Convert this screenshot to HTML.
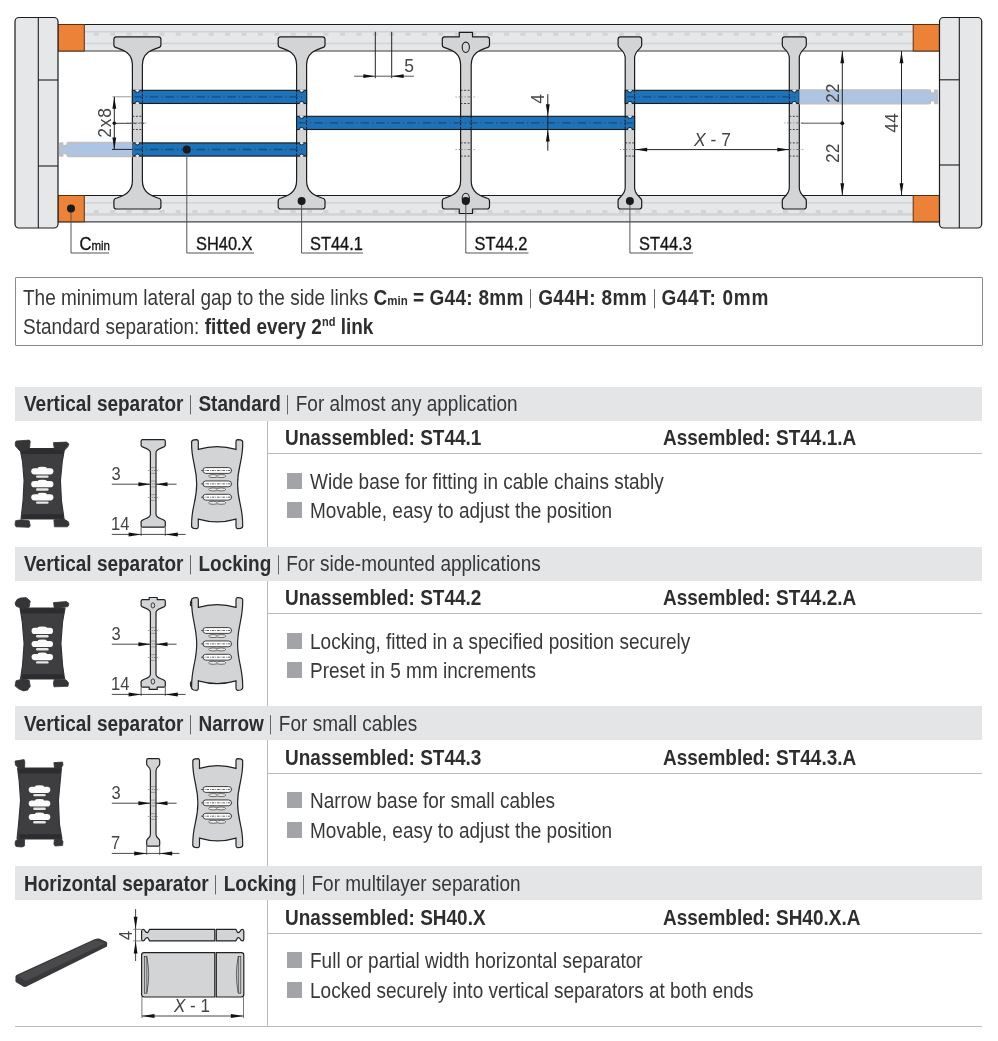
<!DOCTYPE html>
<html><head><meta charset="utf-8"><style>
html,body{margin:0;padding:0;background:#fff;}
body{width:998px;height:1041px;position:relative;overflow:hidden;font-family:"Liberation Sans", sans-serif;}
.t{position:absolute;white-space:nowrap;will-change:transform;}
b{font-weight:700;color:#2e2e2e;}
sup{font-size:11px;vertical-align:0;position:relative;top:-7px;}
.vb{display:inline-block;width:1px;background:#666;vertical-align:-3px;}
</style></head><body>
<svg width="998" height="262" viewBox="0 0 998 262" style="position:absolute;left:0;top:0;will-change:transform"><rect x="58" y="24.5" width="881" height="26.5" fill="#e6e7e9"/><rect x="84" y="30.9" width="829" height="1.6" fill="#d2d3d5"/><rect x="84" y="42.7" width="829" height="1.5" fill="#d2d3d5"/><rect x="93.8" y="32.5" width="5" height="3.2" fill="#d2d3d5"/><rect x="110.2" y="32.5" width="5" height="3.2" fill="#d2d3d5"/><rect x="126.6" y="32.5" width="5" height="3.2" fill="#d2d3d5"/><rect x="143.0" y="32.5" width="5" height="3.2" fill="#d2d3d5"/><rect x="159.4" y="32.5" width="5" height="3.2" fill="#d2d3d5"/><rect x="175.8" y="32.5" width="5" height="3.2" fill="#d2d3d5"/><rect x="192.3" y="32.5" width="5" height="3.2" fill="#d2d3d5"/><rect x="208.7" y="32.5" width="5" height="3.2" fill="#d2d3d5"/><rect x="225.1" y="32.5" width="5" height="3.2" fill="#d2d3d5"/><rect x="241.5" y="32.5" width="5" height="3.2" fill="#d2d3d5"/><rect x="257.9" y="32.5" width="5" height="3.2" fill="#d2d3d5"/><rect x="274.3" y="32.5" width="5" height="3.2" fill="#d2d3d5"/><rect x="290.7" y="32.5" width="5" height="3.2" fill="#d2d3d5"/><rect x="307.1" y="32.5" width="5" height="3.2" fill="#d2d3d5"/><rect x="323.5" y="32.5" width="5" height="3.2" fill="#d2d3d5"/><rect x="340.0" y="32.5" width="5" height="3.2" fill="#d2d3d5"/><rect x="356.4" y="32.5" width="5" height="3.2" fill="#d2d3d5"/><rect x="372.8" y="32.5" width="5" height="3.2" fill="#d2d3d5"/><rect x="389.2" y="32.5" width="5" height="3.2" fill="#d2d3d5"/><rect x="405.6" y="32.5" width="5" height="3.2" fill="#d2d3d5"/><rect x="422.0" y="32.5" width="5" height="3.2" fill="#d2d3d5"/><rect x="438.4" y="32.5" width="5" height="3.2" fill="#d2d3d5"/><rect x="454.8" y="32.5" width="5" height="3.2" fill="#d2d3d5"/><rect x="471.2" y="32.5" width="5" height="3.2" fill="#d2d3d5"/><rect x="487.6" y="32.5" width="5" height="3.2" fill="#d2d3d5"/><rect x="504.1" y="32.5" width="5" height="3.2" fill="#d2d3d5"/><rect x="520.5" y="32.5" width="5" height="3.2" fill="#d2d3d5"/><rect x="536.9" y="32.5" width="5" height="3.2" fill="#d2d3d5"/><rect x="553.3" y="32.5" width="5" height="3.2" fill="#d2d3d5"/><rect x="569.7" y="32.5" width="5" height="3.2" fill="#d2d3d5"/><rect x="586.1" y="32.5" width="5" height="3.2" fill="#d2d3d5"/><rect x="602.5" y="32.5" width="5" height="3.2" fill="#d2d3d5"/><rect x="618.9" y="32.5" width="5" height="3.2" fill="#d2d3d5"/><rect x="635.3" y="32.5" width="5" height="3.2" fill="#d2d3d5"/><rect x="651.7" y="32.5" width="5" height="3.2" fill="#d2d3d5"/><rect x="668.2" y="32.5" width="5" height="3.2" fill="#d2d3d5"/><rect x="684.6" y="32.5" width="5" height="3.2" fill="#d2d3d5"/><rect x="701.0" y="32.5" width="5" height="3.2" fill="#d2d3d5"/><rect x="717.4" y="32.5" width="5" height="3.2" fill="#d2d3d5"/><rect x="733.8" y="32.5" width="5" height="3.2" fill="#d2d3d5"/><rect x="750.2" y="32.5" width="5" height="3.2" fill="#d2d3d5"/><rect x="766.6" y="32.5" width="5" height="3.2" fill="#d2d3d5"/><rect x="783.0" y="32.5" width="5" height="3.2" fill="#d2d3d5"/><rect x="799.4" y="32.5" width="5" height="3.2" fill="#d2d3d5"/><rect x="815.8" y="32.5" width="5" height="3.2" fill="#d2d3d5"/><rect x="832.2" y="32.5" width="5" height="3.2" fill="#d2d3d5"/><rect x="848.7" y="32.5" width="5" height="3.2" fill="#d2d3d5"/><rect x="865.1" y="32.5" width="5" height="3.2" fill="#d2d3d5"/><rect x="881.5" y="32.5" width="5" height="3.2" fill="#d2d3d5"/><rect x="897.9" y="32.5" width="5" height="3.2" fill="#d2d3d5"/><line x1="58" y1="24.5" x2="939" y2="24.5" stroke="#1c1c1c" stroke-width="1.2"/><line x1="58" y1="51" x2="939" y2="51" stroke="#7a7a7a" stroke-width="1.3"/><rect x="58" y="195.5" width="881" height="26.30000000000001" fill="#e6e7e9"/><rect x="84" y="202.1" width="829" height="1.5" fill="#d2d3d5"/><rect x="84" y="213.1" width="829" height="2.6" fill="#d2d3d5"/><rect x="93.8" y="210" width="5" height="3.2" fill="#d2d3d5"/><rect x="110.2" y="210" width="5" height="3.2" fill="#d2d3d5"/><rect x="126.6" y="210" width="5" height="3.2" fill="#d2d3d5"/><rect x="143.0" y="210" width="5" height="3.2" fill="#d2d3d5"/><rect x="159.4" y="210" width="5" height="3.2" fill="#d2d3d5"/><rect x="175.8" y="210" width="5" height="3.2" fill="#d2d3d5"/><rect x="192.3" y="210" width="5" height="3.2" fill="#d2d3d5"/><rect x="208.7" y="210" width="5" height="3.2" fill="#d2d3d5"/><rect x="225.1" y="210" width="5" height="3.2" fill="#d2d3d5"/><rect x="241.5" y="210" width="5" height="3.2" fill="#d2d3d5"/><rect x="257.9" y="210" width="5" height="3.2" fill="#d2d3d5"/><rect x="274.3" y="210" width="5" height="3.2" fill="#d2d3d5"/><rect x="290.7" y="210" width="5" height="3.2" fill="#d2d3d5"/><rect x="307.1" y="210" width="5" height="3.2" fill="#d2d3d5"/><rect x="323.5" y="210" width="5" height="3.2" fill="#d2d3d5"/><rect x="340.0" y="210" width="5" height="3.2" fill="#d2d3d5"/><rect x="356.4" y="210" width="5" height="3.2" fill="#d2d3d5"/><rect x="372.8" y="210" width="5" height="3.2" fill="#d2d3d5"/><rect x="389.2" y="210" width="5" height="3.2" fill="#d2d3d5"/><rect x="405.6" y="210" width="5" height="3.2" fill="#d2d3d5"/><rect x="422.0" y="210" width="5" height="3.2" fill="#d2d3d5"/><rect x="438.4" y="210" width="5" height="3.2" fill="#d2d3d5"/><rect x="454.8" y="210" width="5" height="3.2" fill="#d2d3d5"/><rect x="471.2" y="210" width="5" height="3.2" fill="#d2d3d5"/><rect x="487.6" y="210" width="5" height="3.2" fill="#d2d3d5"/><rect x="504.1" y="210" width="5" height="3.2" fill="#d2d3d5"/><rect x="520.5" y="210" width="5" height="3.2" fill="#d2d3d5"/><rect x="536.9" y="210" width="5" height="3.2" fill="#d2d3d5"/><rect x="553.3" y="210" width="5" height="3.2" fill="#d2d3d5"/><rect x="569.7" y="210" width="5" height="3.2" fill="#d2d3d5"/><rect x="586.1" y="210" width="5" height="3.2" fill="#d2d3d5"/><rect x="602.5" y="210" width="5" height="3.2" fill="#d2d3d5"/><rect x="618.9" y="210" width="5" height="3.2" fill="#d2d3d5"/><rect x="635.3" y="210" width="5" height="3.2" fill="#d2d3d5"/><rect x="651.7" y="210" width="5" height="3.2" fill="#d2d3d5"/><rect x="668.2" y="210" width="5" height="3.2" fill="#d2d3d5"/><rect x="684.6" y="210" width="5" height="3.2" fill="#d2d3d5"/><rect x="701.0" y="210" width="5" height="3.2" fill="#d2d3d5"/><rect x="717.4" y="210" width="5" height="3.2" fill="#d2d3d5"/><rect x="733.8" y="210" width="5" height="3.2" fill="#d2d3d5"/><rect x="750.2" y="210" width="5" height="3.2" fill="#d2d3d5"/><rect x="766.6" y="210" width="5" height="3.2" fill="#d2d3d5"/><rect x="783.0" y="210" width="5" height="3.2" fill="#d2d3d5"/><rect x="799.4" y="210" width="5" height="3.2" fill="#d2d3d5"/><rect x="815.8" y="210" width="5" height="3.2" fill="#d2d3d5"/><rect x="832.2" y="210" width="5" height="3.2" fill="#d2d3d5"/><rect x="848.7" y="210" width="5" height="3.2" fill="#d2d3d5"/><rect x="865.1" y="210" width="5" height="3.2" fill="#d2d3d5"/><rect x="881.5" y="210" width="5" height="3.2" fill="#d2d3d5"/><rect x="897.9" y="210" width="5" height="3.2" fill="#d2d3d5"/><line x1="58" y1="195.5" x2="939" y2="195.5" stroke="#1c1c1c" stroke-width="1.2"/><line x1="58" y1="221.8" x2="939" y2="221.8" stroke="#444" stroke-width="1.3"/><rect x="58" y="24.5" width="26.299999999999997" height="26.5" fill="#ec8237" stroke="#5a3010" stroke-width="1"/><rect x="58" y="195.5" width="26.299999999999997" height="26.30000000000001" fill="#ec8237" stroke="#5a3010" stroke-width="1"/><rect x="913.2" y="24.5" width="26.199999999999932" height="26.5" fill="#ec8237" stroke="#5a3010" stroke-width="1"/><rect x="913.2" y="195.5" width="26.199999999999932" height="26.30000000000001" fill="#ec8237" stroke="#5a3010" stroke-width="1"/><rect x="15" y="17.5" width="43" height="210.5" rx="4" fill="#e6e7e9" stroke="#1c1c1c" stroke-width="1.2"/><line x1="38.3" y1="17.5" x2="38.3" y2="228" stroke="#1c1c1c" stroke-width="1.1"/><line x1="38.3" y1="80" x2="58" y2="80" stroke="#1c1c1c" stroke-width="1.1"/><line x1="38.3" y1="166" x2="58" y2="166" stroke="#1c1c1c" stroke-width="1.1"/><rect x="939.5" y="17.5" width="42.200000000000045" height="210.5" rx="4" fill="#e6e7e9" stroke="#1c1c1c" stroke-width="1.2"/><line x1="959.3" y1="17.5" x2="959.3" y2="228" stroke="#1c1c1c" stroke-width="1.1"/><line x1="939.5" y1="79.8" x2="959.3" y2="79.8" stroke="#1c1c1c" stroke-width="1.1"/><line x1="939.5" y1="165" x2="959.3" y2="165" stroke="#1c1c1c" stroke-width="1.1"/><path d="M 116.4,36.8 L 158.4,36.8 Q 160.9,36.8 160.9,39.3 L 160.9,45 Q 160.9,47.2 157.9,47.8 C 151.4,50 142.4,53 142.4,65 L 142.4,180.8 C 142.4,192.8 151.4,195.8 157.9,198.0 Q 160.9,198.60000000000002 160.9,200.8 L 160.9,206.5 Q 160.9,209.0 158.4,209.0 L 116.4,209.0 Q 113.9,209.0 113.9,206.5 L 113.9,200.8 Q 113.9,198.60000000000002 116.9,198.0 C 123.4,195.8 132.4,192.8 132.4,180.8 L 132.4,65 C 132.4,53 123.4,50 116.9,47.8 Q 113.9,47.2 113.9,45 L 113.9,39.3 Q 113.9,36.8 116.4,36.8 Z" fill="#d3d4d6" stroke="#1c1c1c" stroke-width="1.2" stroke-linejoin="round"/><path d="M 280.70000000000005,36.8 L 322.5,36.8 Q 325.0,36.8 325.0,39.3 L 325.0,45 Q 325.0,47.2 322.0,47.8 C 315.6,50 306.6,53 306.6,65 L 306.6,180.8 C 306.6,192.8 315.6,195.8 322.0,198.0 Q 325.0,198.60000000000002 325.0,200.8 L 325.0,206.5 Q 325.0,209.0 322.5,209.0 L 280.70000000000005,209.0 Q 278.20000000000005,209.0 278.20000000000005,206.5 L 278.20000000000005,200.8 Q 278.20000000000005,198.60000000000002 281.20000000000005,198.0 C 287.6,195.8 296.6,192.8 296.6,180.8 L 296.6,65 C 296.6,53 287.6,50 281.20000000000005,47.8 Q 278.20000000000005,47.2 278.20000000000005,45 L 278.20000000000005,39.3 Q 278.20000000000005,36.8 280.70000000000005,36.8 Z" fill="#d3d4d6" stroke="#1c1c1c" stroke-width="1.2" stroke-linejoin="round"/><path d="M 444.79999999999995,36.8 L 459.29999999999995,36.8 L 459.29999999999995,32.3 L 472.5,32.3 L 472.5,36.8 L 487.0,36.8 Q 489.5,36.8 489.5,39.3 L 489.5,45 Q 489.5,47.2 486.5,47.8 C 480.2,50 471.2,53 471.2,65 L 471.2,180.8 C 471.2,192.8 480.2,195.8 486.5,198.0 Q 489.5,198.60000000000002 489.5,200.8 L 489.5,206.5 Q 489.5,209.0 487.0,209.0 L 472.5,209.0 L 472.5,213.5 L 459.29999999999995,213.5 L 459.29999999999995,209.0 L 444.79999999999995,209.0 Q 442.29999999999995,209.0 442.29999999999995,206.5 L 442.29999999999995,200.8 Q 442.29999999999995,198.60000000000002 445.29999999999995,198.0 C 451.59999999999997,195.8 460.59999999999997,192.8 460.59999999999997,180.8 L 460.59999999999997,65 C 460.59999999999997,53 451.59999999999997,50 445.29999999999995,47.8 Q 442.29999999999995,47.2 442.29999999999995,45 L 442.29999999999995,39.3 Q 442.29999999999995,36.8 444.79999999999995,36.8 Z" fill="#d3d4d6" stroke="#1c1c1c" stroke-width="1.2" stroke-linejoin="round"/><path d="M 620.6,36.8 L 639.1999999999999,36.8 Q 641.6999999999999,36.8 641.6999999999999,39.3 L 641.6999999999999,45.3 C 641.6999999999999,48.8 634.6,50.3 634.6,58 L 634.6,187.8 C 634.6,195.5 641.6999999999999,197.0 641.6999999999999,200.5 L 641.6999999999999,206.5 Q 641.6999999999999,209.0 639.1999999999999,209.0 L 620.6,209.0 Q 618.1,209.0 618.1,206.5 L 618.1,200.5 C 618.1,197.0 625.1999999999999,195.5 625.1999999999999,187.8 L 625.1999999999999,58 C 625.1999999999999,50.3 618.1,48.8 618.1,45.3 L 618.1,39.3 Q 618.1,36.8 620.6,36.8 Z" fill="#d3d4d6" stroke="#1c1c1c" stroke-width="1.2" stroke-linejoin="round"/><path d="M 784.8,36.8 L 803.8,36.8 Q 806.3,36.8 806.3,39.3 L 806.3,45.3 C 806.3,48.8 799.3,50.3 799.3,58 L 799.3,187.8 C 799.3,195.5 806.3,197.0 806.3,200.5 L 806.3,206.5 Q 806.3,209.0 803.8,209.0 L 784.8,209.0 Q 782.3,209.0 782.3,206.5 L 782.3,200.5 C 782.3,197.0 789.3,195.5 789.3,187.8 L 789.3,58 C 789.3,50.3 782.3,48.8 782.3,45.3 L 782.3,39.3 Q 782.3,36.8 784.8,36.8 Z" fill="#d3d4d6" stroke="#1c1c1c" stroke-width="1.2" stroke-linejoin="round"/><ellipse cx="465.8" cy="47.3" rx="3.6" ry="5.2" fill="none" stroke="#1c1c1c" stroke-width="1.1"/><ellipse cx="465.8" cy="198.5" rx="3.6" ry="5.2" fill="none" stroke="#1c1c1c" stroke-width="1.1"/><line x1="132.4" y1="116.30000000000001" x2="142.4" y2="116.30000000000001" stroke="#333" stroke-width="0.9" stroke-dasharray="2,1.5"/><line x1="132.4" y1="129.5" x2="142.4" y2="129.5" stroke="#333" stroke-width="0.9" stroke-dasharray="2,1.5"/><line x1="127.4" y1="122.9" x2="147.4" y2="122.9" stroke="#666" stroke-width="0.8" stroke-dasharray="1,2,4,2"/><line x1="460.59999999999997" y1="90.30000000000001" x2="471.2" y2="90.30000000000001" stroke="#333" stroke-width="0.9" stroke-dasharray="2,1.5"/><line x1="460.59999999999997" y1="103.5" x2="471.2" y2="103.5" stroke="#333" stroke-width="0.9" stroke-dasharray="2,1.5"/><line x1="455.59999999999997" y1="96.9" x2="476.2" y2="96.9" stroke="#666" stroke-width="0.8" stroke-dasharray="1,2,4,2"/><line x1="460.59999999999997" y1="142.9" x2="471.2" y2="142.9" stroke="#333" stroke-width="0.9" stroke-dasharray="2,1.5"/><line x1="460.59999999999997" y1="156.1" x2="471.2" y2="156.1" stroke="#333" stroke-width="0.9" stroke-dasharray="2,1.5"/><line x1="455.59999999999997" y1="149.5" x2="476.2" y2="149.5" stroke="#666" stroke-width="0.8" stroke-dasharray="1,2,4,2"/><line x1="625.1999999999999" y1="142.9" x2="634.6" y2="142.9" stroke="#333" stroke-width="0.9" stroke-dasharray="2,1.5"/><line x1="625.1999999999999" y1="156.1" x2="634.6" y2="156.1" stroke="#333" stroke-width="0.9" stroke-dasharray="2,1.5"/><line x1="620.1999999999999" y1="149.5" x2="639.6" y2="149.5" stroke="#666" stroke-width="0.8" stroke-dasharray="1,2,4,2"/><line x1="789.3" y1="116.30000000000001" x2="799.3" y2="116.30000000000001" stroke="#333" stroke-width="0.9" stroke-dasharray="2,1.5"/><line x1="789.3" y1="129.5" x2="799.3" y2="129.5" stroke="#333" stroke-width="0.9" stroke-dasharray="2,1.5"/><line x1="784.3" y1="122.9" x2="804.3" y2="122.9" stroke="#666" stroke-width="0.8" stroke-dasharray="1,2,4,2"/><line x1="789.3" y1="142.9" x2="799.3" y2="142.9" stroke="#333" stroke-width="0.9" stroke-dasharray="2,1.5"/><line x1="789.3" y1="156.1" x2="799.3" y2="156.1" stroke="#333" stroke-width="0.9" stroke-dasharray="2,1.5"/><line x1="784.3" y1="149.5" x2="804.3" y2="149.5" stroke="#666" stroke-width="0.8" stroke-dasharray="1,2,4,2"/><rect x="132.4" y="90.30000000000001" width="174.20000000000002" height="13.2" fill="#1d72b8" stroke="#1a1a1a" stroke-width="1.1"/><line x1="134.4" y1="96.9" x2="304.6" y2="96.9" stroke="#0f4f85" stroke-width="1.3" stroke-dasharray="8.5,3,1,3"/><path d="M 135.1,90.30000000000001 A 2.3,2.1 0 0 0 139.70000000000002,90.30000000000001" fill="#d3d4d6" stroke="#1a1a1a" stroke-width="0.9"/><rect x="135.70000000000002" y="89.60000000000001" width="3.4" height="1.4" fill="#d3d4d6"/><rect x="136.8" y="89.60000000000001" width="1.2" height="1.4" fill="#f6f6f6"/><path d="M 135.1,103.50000000000001 A 2.3,2.1 0 0 1 139.70000000000002,103.50000000000001" fill="#d3d4d6" stroke="#1a1a1a" stroke-width="0.9"/><rect x="135.70000000000002" y="102.80000000000001" width="3.4" height="1.4" fill="#d3d4d6"/><rect x="136.8" y="102.80000000000001" width="1.2" height="1.4" fill="#f6f6f6"/><path d="M 299.3,90.30000000000001 A 2.3,2.1 0 0 0 303.90000000000003,90.30000000000001" fill="#d3d4d6" stroke="#1a1a1a" stroke-width="0.9"/><rect x="299.90000000000003" y="89.60000000000001" width="3.4" height="1.4" fill="#d3d4d6"/><rect x="301.0" y="89.60000000000001" width="1.2" height="1.4" fill="#f6f6f6"/><path d="M 299.3,103.50000000000001 A 2.3,2.1 0 0 1 303.90000000000003,103.50000000000001" fill="#d3d4d6" stroke="#1a1a1a" stroke-width="0.9"/><rect x="299.90000000000003" y="102.80000000000001" width="3.4" height="1.4" fill="#d3d4d6"/><rect x="301.0" y="102.80000000000001" width="1.2" height="1.4" fill="#f6f6f6"/><rect x="132.4" y="142.9" width="174.20000000000002" height="13.2" fill="#1d72b8" stroke="#1a1a1a" stroke-width="1.1"/><line x1="134.4" y1="149.5" x2="304.6" y2="149.5" stroke="#0f4f85" stroke-width="1.3" stroke-dasharray="8.5,3,1,3"/><path d="M 135.1,142.9 A 2.3,2.1 0 0 0 139.70000000000002,142.9" fill="#d3d4d6" stroke="#1a1a1a" stroke-width="0.9"/><rect x="135.70000000000002" y="142.20000000000002" width="3.4" height="1.4" fill="#d3d4d6"/><rect x="136.8" y="142.20000000000002" width="1.2" height="1.4" fill="#f6f6f6"/><path d="M 135.1,156.1 A 2.3,2.1 0 0 1 139.70000000000002,156.1" fill="#d3d4d6" stroke="#1a1a1a" stroke-width="0.9"/><rect x="135.70000000000002" y="155.4" width="3.4" height="1.4" fill="#d3d4d6"/><rect x="136.8" y="155.4" width="1.2" height="1.4" fill="#f6f6f6"/><path d="M 299.3,142.9 A 2.3,2.1 0 0 0 303.90000000000003,142.9" fill="#d3d4d6" stroke="#1a1a1a" stroke-width="0.9"/><rect x="299.90000000000003" y="142.20000000000002" width="3.4" height="1.4" fill="#d3d4d6"/><rect x="301.0" y="142.20000000000002" width="1.2" height="1.4" fill="#f6f6f6"/><path d="M 299.3,156.1 A 2.3,2.1 0 0 1 303.90000000000003,156.1" fill="#d3d4d6" stroke="#1a1a1a" stroke-width="0.9"/><rect x="299.90000000000003" y="155.4" width="3.4" height="1.4" fill="#d3d4d6"/><rect x="301.0" y="155.4" width="1.2" height="1.4" fill="#f6f6f6"/><rect x="296.6" y="116.30000000000001" width="338.0" height="13.2" fill="#1d72b8" stroke="#1a1a1a" stroke-width="1.1"/><line x1="298.6" y1="122.9" x2="632.6" y2="122.9" stroke="#0f4f85" stroke-width="1.3" stroke-dasharray="8.5,3,1,3"/><path d="M 299.3,116.30000000000001 A 2.3,2.1 0 0 0 303.90000000000003,116.30000000000001" fill="#d3d4d6" stroke="#1a1a1a" stroke-width="0.9"/><rect x="299.90000000000003" y="115.60000000000001" width="3.4" height="1.4" fill="#d3d4d6"/><rect x="301.0" y="115.60000000000001" width="1.2" height="1.4" fill="#f6f6f6"/><path d="M 299.3,129.5 A 2.3,2.1 0 0 1 303.90000000000003,129.5" fill="#d3d4d6" stroke="#1a1a1a" stroke-width="0.9"/><rect x="299.90000000000003" y="128.8" width="3.4" height="1.4" fill="#d3d4d6"/><rect x="301.0" y="128.8" width="1.2" height="1.4" fill="#f6f6f6"/><path d="M 627.6,116.30000000000001 A 2.3,2.1 0 0 0 632.1999999999999,116.30000000000001" fill="#d3d4d6" stroke="#1a1a1a" stroke-width="0.9"/><rect x="628.1999999999999" y="115.60000000000001" width="3.4" height="1.4" fill="#d3d4d6"/><rect x="629.3" y="115.60000000000001" width="1.2" height="1.4" fill="#f6f6f6"/><path d="M 627.6,129.5 A 2.3,2.1 0 0 1 632.1999999999999,129.5" fill="#d3d4d6" stroke="#1a1a1a" stroke-width="0.9"/><rect x="628.1999999999999" y="128.8" width="3.4" height="1.4" fill="#d3d4d6"/><rect x="629.3" y="128.8" width="1.2" height="1.4" fill="#f6f6f6"/><rect x="625.2" y="90.30000000000001" width="174.0999999999999" height="13.2" fill="#1d72b8" stroke="#1a1a1a" stroke-width="1.1"/><line x1="627.2" y1="96.9" x2="797.3" y2="96.9" stroke="#0f4f85" stroke-width="1.3" stroke-dasharray="8.5,3,1,3"/><path d="M 627.6,90.30000000000001 A 2.3,2.1 0 0 0 632.1999999999999,90.30000000000001" fill="#d3d4d6" stroke="#1a1a1a" stroke-width="0.9"/><rect x="628.1999999999999" y="89.60000000000001" width="3.4" height="1.4" fill="#d3d4d6"/><rect x="629.3" y="89.60000000000001" width="1.2" height="1.4" fill="#f6f6f6"/><path d="M 627.6,103.50000000000001 A 2.3,2.1 0 0 1 632.1999999999999,103.50000000000001" fill="#d3d4d6" stroke="#1a1a1a" stroke-width="0.9"/><rect x="628.1999999999999" y="102.80000000000001" width="3.4" height="1.4" fill="#d3d4d6"/><rect x="629.3" y="102.80000000000001" width="1.2" height="1.4" fill="#f6f6f6"/><path d="M 792.0,90.30000000000001 A 2.3,2.1 0 0 0 796.5999999999999,90.30000000000001" fill="#d3d4d6" stroke="#1a1a1a" stroke-width="0.9"/><rect x="792.5999999999999" y="89.60000000000001" width="3.4" height="1.4" fill="#d3d4d6"/><rect x="793.6999999999999" y="89.60000000000001" width="1.2" height="1.4" fill="#f6f6f6"/><path d="M 792.0,103.50000000000001 A 2.3,2.1 0 0 1 796.5999999999999,103.50000000000001" fill="#d3d4d6" stroke="#1a1a1a" stroke-width="0.9"/><rect x="792.5999999999999" y="102.80000000000001" width="3.4" height="1.4" fill="#d3d4d6"/><rect x="793.6999999999999" y="102.80000000000001" width="1.2" height="1.4" fill="#f6f6f6"/><path d="M 132.4,142.6 L 68.6,142.6 Q 67.0,142.6 67.0,144.2 L 67.0,145.6 L 62.6,145.6 L 62.6,143.0 L 60.4,143.0 Q 59.8,143.0 59.8,143.79999999999998 L 59.8,155.20000000000002 Q 59.8,156.0 60.4,156.0 L 62.6,156.0 L 62.6,153.4 L 67.0,153.4 L 67.0,154.8 Q 67.0,156.4 68.6,156.4 L 132.4,156.4" fill="#adc4e3" stroke="#bfbfbf" stroke-width="1.6"/><path d="M 799.3,90.0 L 928.8,90.0 Q 930.4,90.0 930.4,91.6 L 930.4,93.0 L 934.8,93.0 L 934.8,90.4 L 937.0,90.4 Q 937.6,90.4 937.6,91.2 L 937.6,102.60000000000001 Q 937.6,103.4 937.0,103.4 L 934.8,103.4 L 934.8,100.80000000000001 L 930.4,100.80000000000001 L 930.4,102.20000000000002 Q 930.4,103.80000000000001 928.8,103.80000000000001 L 799.3,103.80000000000001" fill="#adc4e3" stroke="#bfbfbf" stroke-width="1.6"/><line x1="142.4" y1="90.30000000000001" x2="142.4" y2="103.5" stroke="#111" stroke-width="1" stroke-dasharray="2,1.5"/><line x1="142.4" y1="142.9" x2="142.4" y2="156.1" stroke="#111" stroke-width="1" stroke-dasharray="2,1.5"/><line x1="296.6" y1="90.30000000000001" x2="296.6" y2="103.5" stroke="#111" stroke-width="1" stroke-dasharray="2,1.5"/><line x1="296.6" y1="142.9" x2="296.6" y2="156.1" stroke="#111" stroke-width="1" stroke-dasharray="2,1.5"/><line x1="306.6" y1="116.30000000000001" x2="306.6" y2="129.5" stroke="#111" stroke-width="1" stroke-dasharray="2,1.5"/><line x1="460.6" y1="116.30000000000001" x2="460.6" y2="129.5" stroke="#111" stroke-width="1" stroke-dasharray="2,1.5"/><line x1="471.2" y1="116.30000000000001" x2="471.2" y2="129.5" stroke="#111" stroke-width="1" stroke-dasharray="2,1.5"/><line x1="625.2" y1="116.30000000000001" x2="625.2" y2="129.5" stroke="#111" stroke-width="1" stroke-dasharray="2,1.5"/><line x1="634.6" y1="90.30000000000001" x2="634.6" y2="103.5" stroke="#111" stroke-width="1" stroke-dasharray="2,1.5"/><line x1="789.3" y1="90.30000000000001" x2="789.3" y2="103.5" stroke="#111" stroke-width="1" stroke-dasharray="2,1.5"/><line x1="375.3" y1="31.8" x2="375.3" y2="78.2" stroke="#222" stroke-width="1"/><line x1="391.7" y1="31.8" x2="391.7" y2="78.2" stroke="#222" stroke-width="1"/><line x1="354.2" y1="76.2" x2="413.9" y2="76.2" stroke="#555" stroke-width="1"/><polygon points="375.3,76.2 363.3,74.3 363.3,78.10000000000001" fill="#111"/><polygon points="391.7,76.2 403.7,74.3 403.7,78.10000000000001" fill="#111"/><text x="0" y="0" font-family="Liberation Sans" font-size="17.5" text-anchor="middle" fill="#444" font-weight="normal" transform="translate(409.2 71.9) scale(1 1.1)">5</text><line x1="547.8" y1="94.2" x2="547.8" y2="150.7" stroke="#222" stroke-width="1"/><polygon points="547.8,116.2 545.9,104.2 549.6999999999999,104.2" fill="#111"/><polygon points="547.8,129.6 545.9,141.6 549.6999999999999,141.6" fill="#111"/><text x="0" y="0" font-family="Liberation Sans" font-size="17.5" text-anchor="middle" fill="#444" font-weight="normal" transform="translate(543.6 99) rotate(-90) scale(1 1.1)">4</text><line x1="112.4" y1="96.8" x2="131.5" y2="96.8" stroke="#999" stroke-width="1"/><line x1="112" y1="149.4" x2="132.4" y2="149.4" stroke="#222" stroke-width="1"/><line x1="114.3" y1="96.8" x2="114.3" y2="149.4" stroke="#222" stroke-width="1"/><polygon points="114.3,96.8 112.39999999999999,108.8 116.2,108.8" fill="#111"/><polygon points="114.3,149.4 112.39999999999999,137.4 116.2,137.4" fill="#111"/><circle cx="114.3" cy="123.3" r="1.8" fill="#111"/><line x1="114.3" y1="123.3" x2="131.5" y2="123.3" stroke="#222" stroke-width="0.9"/><line x1="133.5" y1="123.3" x2="146.2" y2="123.3" stroke="#333" stroke-width="0.9" stroke-dasharray="3,2,1,2"/><text x="0" y="0" font-family="Liberation Sans" font-size="17.5" text-anchor="middle" fill="#444" font-weight="normal" transform="translate(110.8 122.9) rotate(-90) scale(1 1.1)">2<tspan dx="0.8">x</tspan><tspan dx="0.8">8</tspan></text><line x1="635.2" y1="149.6" x2="789.3" y2="149.6" stroke="#222" stroke-width="1"/><polygon points="635.2,149.6 647.2,147.7 647.2,151.5" fill="#111"/><polygon points="789.3,149.6 777.3,147.7 777.3,151.5" fill="#111"/><text x="0" y="0" font-family="Liberation Sans" font-size="17.5" text-anchor="middle" fill="#444" font-weight="normal" transform="translate(712.5 145.8) scale(1 1.1)"><tspan font-style="italic">X</tspan> - 7</text><line x1="801" y1="123.2" x2="842.3" y2="123.2" stroke="#555" stroke-width="1"/><line x1="842.3" y1="51" x2="842.3" y2="195.2" stroke="#222" stroke-width="1"/><polygon points="842.3,51.2 840.4,63.2 844.1999999999999,63.2" fill="#111"/><polygon points="842.3,195.2 840.4,183.2 844.1999999999999,183.2" fill="#111"/><circle cx="842.3" cy="123.2" r="1.9" fill="#111"/><text x="0" y="0" font-family="Liberation Sans" font-size="17.5" text-anchor="middle" fill="#444" font-weight="normal" transform="translate(839.2 93.2) rotate(-90) scale(1 1.1)">22</text><text x="0" y="0" font-family="Liberation Sans" font-size="17.5" text-anchor="middle" fill="#444" font-weight="normal" transform="translate(839.2 153.3) rotate(-90) scale(1 1.1)">22</text><line x1="901.5" y1="51" x2="901.5" y2="195.2" stroke="#222" stroke-width="1"/><polygon points="901.5,51.2 899.6,63.2 903.4,63.2" fill="#111"/><polygon points="901.5,195.2 899.6,183.2 903.4,183.2" fill="#111"/><text x="0" y="0" font-family="Liberation Sans" font-size="17.5" text-anchor="middle" fill="#444" font-weight="normal" transform="translate(897.6 123) rotate(-90) scale(1 1.1)">44</text><line x1="71" y1="208.6" x2="71" y2="253" stroke="#555" stroke-width="1"/><line x1="71" y1="253" x2="109" y2="253" stroke="#555" stroke-width="1"/><circle cx="71" cy="208.6" r="4" fill="#1a1a1a"/><text x="0" y="0" font-family="Liberation Sans" font-size="16.6" fill="#141414" stroke="#141414" stroke-width="0.3" transform="translate(79.5 250) scale(1 1.09)">C<tspan font-size="11.5">min</tspan></text><line x1="186.8" y1="149.4" x2="186.8" y2="253" stroke="#555" stroke-width="1"/><line x1="186.8" y1="253" x2="254" y2="253" stroke="#555" stroke-width="1"/><circle cx="186.8" cy="149.4" r="4" fill="#1a1a1a"/><text x="0" y="0" font-family="Liberation Sans" font-size="16.4" fill="#141414" stroke="#141414" stroke-width="0.3" transform="translate(196 250) scale(1 1.09)">SH40.X</text><line x1="301.6" y1="201" x2="301.6" y2="253" stroke="#555" stroke-width="1"/><line x1="301.6" y1="253" x2="363" y2="253" stroke="#555" stroke-width="1"/><circle cx="301.6" cy="201" r="4" fill="#1a1a1a"/><text x="0" y="0" font-family="Liberation Sans" font-size="16.4" fill="#141414" stroke="#141414" stroke-width="0.3" transform="translate(310 250) scale(1 1.09)">ST44.1</text><line x1="465.8" y1="201" x2="465.8" y2="253" stroke="#555" stroke-width="1"/><line x1="465.8" y1="253" x2="528.5" y2="253" stroke="#555" stroke-width="1"/><circle cx="465.8" cy="201" r="4" fill="#1a1a1a"/><text x="0" y="0" font-family="Liberation Sans" font-size="16.4" fill="#141414" stroke="#141414" stroke-width="0.3" transform="translate(474.5 250) scale(1 1.09)">ST44.2</text><line x1="629.9" y1="201" x2="629.9" y2="253" stroke="#555" stroke-width="1"/><line x1="629.9" y1="253" x2="693" y2="253" stroke="#555" stroke-width="1"/><circle cx="629.9" cy="201" r="4" fill="#1a1a1a"/><text x="0" y="0" font-family="Liberation Sans" font-size="16.4" fill="#141414" stroke="#141414" stroke-width="0.3" transform="translate(639 250) scale(1 1.09)">ST44.3</text></svg><div style="position:absolute;left:15px;top:277px;width:965.5px;height:66.5px;border:1.3px solid #8a8a8a;border-radius:1px"></div><div class="t" style="left:22.5px;top:289.12px;font-size:19px;line-height:19px;font-weight:400;color:#383838;transform:scaleY(1.13);transform-origin:0 16.08px;">The minimum lateral gap to the side links <b>C<span style="font-size:11.5px">min</span> = </b><b style="letter-spacing:0.3px">G44: 8m</b><b>m</b> <span class="vb" style="height:17px;margin:0 1.6px 0 1.6px"></span> <b style="letter-spacing:0.35px">G44H: 8m</b><b>m</b> <span class="vb" style="height:17px;margin:0 1.6px 0 1.6px"></span> <b style="letter-spacing:0.7px">G44T: 0mm</b></div><div class="t" style="left:22.5px;top:318.12px;font-size:19px;line-height:19px;font-weight:400;color:#383838;transform:scaleY(1.13);transform-origin:0 16.08px;">Standard separation: <b>fitted every 2<sup>nd</sup> link</b></div><div style="position:absolute;left:15px;top:387px;width:967px;height:34px;background:#e4e5e7"></div><div class="t" style="left:24px;top:395.12px;font-size:19px;line-height:19px;font-weight:400;color:#383838;transform:scaleY(1.13);transform-origin:0 16.08px;"><b>Vertical separator</b> <span class="vb" style="height:17px;margin:0 2.4px 0 1.0px"></span> <b>Standard</b> <span class="vb" style="height:17px;margin:0 2.4px 0 1.0px"></span> For almost any application</div><div style="position:absolute;left:267px;top:421px;width:1px;height:126px;background:#b9babd"></div><div style="position:absolute;left:267px;top:453px;width:715px;height:1px;background:#b9babd"></div><div class="t" style="left:285px;top:429.02px;font-size:19px;line-height:19px;font-weight:400;color:#383838;transform:scaleY(1.13);transform-origin:0 16.08px;"><b>Unassembled: ST44.1</b></div><div class="t" style="left:663px;top:429.02px;font-size:19px;line-height:19px;font-weight:400;color:#383838;transform:scaleY(1.13);transform-origin:0 16.08px;"><b>Assembled: ST44.1.A</b></div><div style="position:absolute;left:287px;top:473.4px;width:15px;height:15.2px;background:#a2a4a7"></div><div class="t" style="left:310.3px;top:473.12px;font-size:19px;line-height:19px;font-weight:400;color:#383838;transform:scaleY(1.13);transform-origin:0 16.08px;">Wide base for fitting in cable chains stably</div><div style="position:absolute;left:287px;top:502.4px;width:15px;height:15.2px;background:#a2a4a7"></div><div class="t" style="left:310.3px;top:502.12px;font-size:19px;line-height:19px;font-weight:400;color:#383838;transform:scaleY(1.13);transform-origin:0 16.08px;">Movable, easy to adjust the position</div><div style="position:absolute;left:15px;top:547px;width:967px;height:34px;background:#e4e5e7"></div><div class="t" style="left:24px;top:555.12px;font-size:19px;line-height:19px;font-weight:400;color:#383838;transform:scaleY(1.13);transform-origin:0 16.08px;"><b>Vertical separator</b> <span class="vb" style="height:17px;margin:0 2.4px 0 1.0px"></span> <b>Locking</b> <span class="vb" style="height:17px;margin:0 2.4px 0 1.0px"></span> For side-mounted applications</div><div style="position:absolute;left:267px;top:581px;width:1px;height:126px;background:#b9babd"></div><div style="position:absolute;left:267px;top:613px;width:715px;height:1px;background:#b9babd"></div><div class="t" style="left:285px;top:589.02px;font-size:19px;line-height:19px;font-weight:400;color:#383838;transform:scaleY(1.13);transform-origin:0 16.08px;"><b>Unassembled: ST44.2</b></div><div class="t" style="left:663px;top:589.02px;font-size:19px;line-height:19px;font-weight:400;color:#383838;transform:scaleY(1.13);transform-origin:0 16.08px;"><b>Assembled: ST44.2.A</b></div><div style="position:absolute;left:287px;top:633.4px;width:15px;height:15.2px;background:#a2a4a7"></div><div class="t" style="left:310.3px;top:633.12px;font-size:19px;line-height:19px;font-weight:400;color:#383838;transform:scaleY(1.13);transform-origin:0 16.08px;">Locking, fitted in a specified position securely</div><div style="position:absolute;left:287px;top:662.4px;width:15px;height:15.2px;background:#a2a4a7"></div><div class="t" style="left:310.3px;top:662.12px;font-size:19px;line-height:19px;font-weight:400;color:#383838;transform:scaleY(1.13);transform-origin:0 16.08px;">Preset in 5 mm increments</div><div style="position:absolute;left:15px;top:706px;width:967px;height:34px;background:#e4e5e7"></div><div class="t" style="left:24px;top:715.12px;font-size:19px;line-height:19px;font-weight:400;color:#383838;transform:scaleY(1.13);transform-origin:0 16.08px;"><b>Vertical separator</b> <span class="vb" style="height:17px;margin:0 2.4px 0 1.0px"></span> <b>Narrow</b> <span class="vb" style="height:17px;margin:0 2.4px 0 1.0px"></span> For small cables</div><div style="position:absolute;left:267px;top:740px;width:1px;height:126px;background:#b9babd"></div><div style="position:absolute;left:267px;top:773px;width:715px;height:1px;background:#b9babd"></div><div class="t" style="left:285px;top:749.02px;font-size:19px;line-height:19px;font-weight:400;color:#383838;transform:scaleY(1.13);transform-origin:0 16.08px;"><b>Unassembled: ST44.3</b></div><div class="t" style="left:663px;top:749.02px;font-size:19px;line-height:19px;font-weight:400;color:#383838;transform:scaleY(1.13);transform-origin:0 16.08px;"><b>Assembled: ST44.3.A</b></div><div style="position:absolute;left:287px;top:792.4px;width:15px;height:15.2px;background:#a2a4a7"></div><div class="t" style="left:310.3px;top:792.12px;font-size:19px;line-height:19px;font-weight:400;color:#383838;transform:scaleY(1.13);transform-origin:0 16.08px;">Narrow base for small cables</div><div style="position:absolute;left:287px;top:822.4px;width:15px;height:15.2px;background:#a2a4a7"></div><div class="t" style="left:310.3px;top:822.12px;font-size:19px;line-height:19px;font-weight:400;color:#383838;transform:scaleY(1.13);transform-origin:0 16.08px;">Movable, easy to adjust the position</div><div style="position:absolute;left:15px;top:866px;width:967px;height:34px;background:#e4e5e7"></div><div class="t" style="left:24px;top:875.12px;font-size:19px;line-height:19px;font-weight:400;color:#383838;transform:scaleY(1.13);transform-origin:0 16.08px;"><b>Horizontal separator</b> <span class="vb" style="height:17px;margin:0 2.4px 0 1.0px"></span> <b>Locking</b> <span class="vb" style="height:17px;margin:0 2.4px 0 1.0px"></span> For multilayer separation</div><div style="position:absolute;left:267px;top:900px;width:1px;height:126px;background:#b9babd"></div><div style="position:absolute;left:267px;top:933px;width:715px;height:1px;background:#b9babd"></div><div class="t" style="left:285px;top:909.02px;font-size:19px;line-height:19px;font-weight:400;color:#383838;transform:scaleY(1.13);transform-origin:0 16.08px;"><b>Unassembled: SH40.X</b></div><div class="t" style="left:663px;top:909.02px;font-size:19px;line-height:19px;font-weight:400;color:#383838;transform:scaleY(1.13);transform-origin:0 16.08px;"><b>Assembled: SH40.X.A</b></div><div style="position:absolute;left:287px;top:952.4px;width:15px;height:15.2px;background:#a2a4a7"></div><div class="t" style="left:310.3px;top:952.12px;font-size:19px;line-height:19px;font-weight:400;color:#383838;transform:scaleY(1.13);transform-origin:0 16.08px;">Full or partial width horizontal separator</div><div style="position:absolute;left:287px;top:982.4px;width:15px;height:15.2px;background:#a2a4a7"></div><div class="t" style="left:310.3px;top:982.12px;font-size:19px;line-height:19px;font-weight:400;color:#383838;transform:scaleY(1.13);transform-origin:0 16.08px;">Locked securely into vertical separators at both ends</div><div style="position:absolute;left:15px;top:1026px;width:967px;height:1px;background:#b9babd"></div><svg width="270" height="1041" viewBox="0 0 270 1041" style="position:absolute;left:0;top:0;will-change:transform"><path d="M 142.6,439.7 L 163.79999999999998,439.7 Q 165.29999999999998,439.7 165.29999999999998,441.2 L 165.29999999999998,445.2 C 165.29999999999998,448.2 156.0,447.7 156.0,452.7 L 156.0,514.2 C 156.0,519.2 165.29999999999998,518.7 165.29999999999998,521.7 L 165.29999999999998,525.7 Q 165.29999999999998,527.2 163.79999999999998,527.2 L 142.6,527.2 Q 141.1,527.2 141.1,525.7 L 141.1,521.7 C 141.1,518.7 150.39999999999998,519.2 150.39999999999998,514.2 L 150.39999999999998,452.7 C 150.39999999999998,447.7 141.1,448.2 141.1,445.2 L 141.1,441.2 Q 141.1,439.7 142.6,439.7 Z" fill="#d3d4d6" stroke="#222" stroke-width="1.2" stroke-linejoin="round"/><line x1="150.39999999999998" y1="467.6" x2="156.0" y2="467.6" stroke="#444" stroke-width="0.7" stroke-dasharray="1.2,0.9"/><line x1="150.39999999999998" y1="473.4" x2="156.0" y2="473.4" stroke="#444" stroke-width="0.7" stroke-dasharray="1.2,0.9"/><line x1="147.89999999999998" y1="470.5" x2="158.5" y2="470.5" stroke="#555" stroke-width="0.7" stroke-dasharray="0.8,1,1.6,1"/><line x1="150.39999999999998" y1="481.1" x2="156.0" y2="481.1" stroke="#444" stroke-width="0.7" stroke-dasharray="1.2,0.9"/><line x1="150.39999999999998" y1="486.9" x2="156.0" y2="486.9" stroke="#444" stroke-width="0.7" stroke-dasharray="1.2,0.9"/><line x1="147.89999999999998" y1="484.0" x2="158.5" y2="484.0" stroke="#555" stroke-width="0.7" stroke-dasharray="0.8,1,1.6,1"/><line x1="150.39999999999998" y1="494.6" x2="156.0" y2="494.6" stroke="#444" stroke-width="0.7" stroke-dasharray="1.2,0.9"/><line x1="150.39999999999998" y1="500.4" x2="156.0" y2="500.4" stroke="#444" stroke-width="0.7" stroke-dasharray="1.2,0.9"/><line x1="147.89999999999998" y1="497.5" x2="158.5" y2="497.5" stroke="#555" stroke-width="0.7" stroke-dasharray="0.8,1,1.6,1"/><line x1="111.8" y1="484.2" x2="150.39999999999998" y2="484.2" stroke="#333" stroke-width="0.9"/><line x1="156.0" y1="484.2" x2="176.6" y2="484.2" stroke="#333" stroke-width="0.9"/><polygon points="150.39999999999998,484.2 138.39999999999998,482.2 138.39999999999998,486.2" fill="#111"/><polygon points="156.0,484.2 167.5,482.2 167.5,486.2" fill="#111"/><text x="111.5" y="479.6" font-family="Liberation Sans" font-size="16.5" fill="#444" transform="translate(0 479.6) scale(1 1.13) translate(0 -479.6)">3</text><line x1="141.1" y1="527.2" x2="141.1" y2="535.9" stroke="#333" stroke-width="0.8"/><line x1="165.29999999999998" y1="527.2" x2="165.29999999999998" y2="535.9" stroke="#333" stroke-width="0.8"/><line x1="111.8" y1="534.4" x2="185.6" y2="534.4" stroke="#333" stroke-width="0.9"/><polygon points="141.1,534.4 128.6,532.4 128.6,536.4" fill="#111"/><polygon points="165.29999999999998,534.4 177.79999999999998,532.4 177.79999999999998,536.4" fill="#111"/><text x="111" y="529.6" font-family="Liberation Sans" font-size="16.5" fill="#444" transform="translate(0 529.6) scale(1 1.13) translate(0 -529.6)">14</text><path d="M 191.60000000000002,442.6 Q 191.3,440.40000000000003 193.8,439.90000000000003 L 196.8,439.6 Q 198.3,439.90000000000003 198.3,441.6 L 198.3,449.40000000000003 Q 217.15,443.90000000000003 236,449.40000000000003 L 236,441.6 Q 236,439.90000000000003 237.5,439.6 L 240.5,439.90000000000003 Q 243,440.40000000000003 242.7,442.6 C 243,461.6 237.6,466.1 237.6,484.1 C 237.6,502.1 243,506.6 242.7,525.6 Q 243,527.8000000000001 240.5,528.3000000000001 L 237.5,528.6 Q 236,528.3000000000001 236,526.6 L 236,519.1 Q 217.15,524.6 198.3,519.1 L 198.3,526.6 Q 198.3,528.3000000000001 196.8,528.6 L 193.8,528.3000000000001 Q 191.3,527.8000000000001 191.60000000000002,525.6 C 191.3,506.6 196.70000000000002,502.1 196.70000000000002,484.1 C 196.70000000000002,466.1 191.3,461.6 191.60000000000002,442.6 Z" fill="#d3d4d6" stroke="#222" stroke-width="1.2"/><rect x="202.89999999999998" y="467.6" width="28.6" height="5.8" rx="2.9" fill="#fff" stroke="#2a2a2a" stroke-width="0.9"/><line x1="201.2" y1="470.5" x2="233.2" y2="470.5" stroke="#333" stroke-width="0.8" stroke-dasharray="2.5,1,0.8,1"/><ellipse cx="213.2" cy="476.1" rx="4.6" ry="1.5" fill="#eee" stroke="#333" stroke-width="0.7"/><ellipse cx="221.2" cy="476.1" rx="4.6" ry="1.5" fill="#eee" stroke="#333" stroke-width="0.7"/><rect x="202.89999999999998" y="480.95000000000005" width="28.6" height="5.8" rx="2.9" fill="#fff" stroke="#2a2a2a" stroke-width="0.9"/><line x1="201.2" y1="483.85" x2="233.2" y2="483.85" stroke="#333" stroke-width="0.8" stroke-dasharray="2.5,1,0.8,1"/><ellipse cx="213.2" cy="489.45000000000005" rx="4.6" ry="1.5" fill="#eee" stroke="#333" stroke-width="0.7"/><ellipse cx="221.2" cy="489.45000000000005" rx="4.6" ry="1.5" fill="#eee" stroke="#333" stroke-width="0.7"/><rect x="202.89999999999998" y="494.3" width="28.6" height="5.8" rx="2.9" fill="#fff" stroke="#2a2a2a" stroke-width="0.9"/><line x1="201.2" y1="497.2" x2="233.2" y2="497.2" stroke="#333" stroke-width="0.8" stroke-dasharray="2.5,1,0.8,1"/><ellipse cx="213.2" cy="502.8" rx="4.6" ry="1.5" fill="#eee" stroke="#333" stroke-width="0.7"/><ellipse cx="221.2" cy="502.8" rx="4.6" ry="1.5" fill="#eee" stroke="#333" stroke-width="0.7"/><path d="M 142.6,599.7 L 149.2,599.7 L 149.2,597.5 L 157.2,597.5 L 157.2,599.7 L 163.79999999999998,599.7 Q 165.29999999999998,599.7 165.29999999999998,601.2 L 165.29999999999998,605.2 C 165.29999999999998,608.2 156.0,607.7 156.0,612.7 L 156.0,674.2 C 156.0,679.2 165.29999999999998,678.7 165.29999999999998,681.7 L 165.29999999999998,685.7 Q 165.29999999999998,687.2 163.79999999999998,687.2 L 157.2,687.2 L 157.2,689.4000000000001 L 149.2,689.4000000000001 L 149.2,687.2 L 142.6,687.2 Q 141.1,687.2 141.1,685.7 L 141.1,681.7 C 141.1,678.7 150.39999999999998,679.2 150.39999999999998,674.2 L 150.39999999999998,612.7 C 150.39999999999998,607.7 141.1,608.2 141.1,605.2 L 141.1,601.2 Q 141.1,599.7 142.6,599.7 Z" fill="#d3d4d6" stroke="#222" stroke-width="1.2" stroke-linejoin="round"/><ellipse cx="152.89999999999998" cy="605.4000000000001" rx="1.8" ry="2.6" fill="none" stroke="#2a2a2a" stroke-width="0.9"/><ellipse cx="152.89999999999998" cy="681.5" rx="1.8" ry="2.6" fill="none" stroke="#2a2a2a" stroke-width="0.9"/><line x1="150.39999999999998" y1="627.6" x2="156.0" y2="627.6" stroke="#444" stroke-width="0.7" stroke-dasharray="1.2,0.9"/><line x1="150.39999999999998" y1="633.4" x2="156.0" y2="633.4" stroke="#444" stroke-width="0.7" stroke-dasharray="1.2,0.9"/><line x1="147.89999999999998" y1="630.5" x2="158.5" y2="630.5" stroke="#555" stroke-width="0.7" stroke-dasharray="0.8,1,1.6,1"/><line x1="150.39999999999998" y1="641.1" x2="156.0" y2="641.1" stroke="#444" stroke-width="0.7" stroke-dasharray="1.2,0.9"/><line x1="150.39999999999998" y1="646.9" x2="156.0" y2="646.9" stroke="#444" stroke-width="0.7" stroke-dasharray="1.2,0.9"/><line x1="147.89999999999998" y1="644.0" x2="158.5" y2="644.0" stroke="#555" stroke-width="0.7" stroke-dasharray="0.8,1,1.6,1"/><line x1="150.39999999999998" y1="654.6" x2="156.0" y2="654.6" stroke="#444" stroke-width="0.7" stroke-dasharray="1.2,0.9"/><line x1="150.39999999999998" y1="660.4" x2="156.0" y2="660.4" stroke="#444" stroke-width="0.7" stroke-dasharray="1.2,0.9"/><line x1="147.89999999999998" y1="657.5" x2="158.5" y2="657.5" stroke="#555" stroke-width="0.7" stroke-dasharray="0.8,1,1.6,1"/><line x1="111.8" y1="644.2" x2="150.39999999999998" y2="644.2" stroke="#333" stroke-width="0.9"/><line x1="156.0" y1="644.2" x2="176.6" y2="644.2" stroke="#333" stroke-width="0.9"/><polygon points="150.39999999999998,644.2 138.39999999999998,642.2 138.39999999999998,646.2" fill="#111"/><polygon points="156.0,644.2 167.5,642.2 167.5,646.2" fill="#111"/><text x="111.5" y="639.6" font-family="Liberation Sans" font-size="16.5" fill="#444" transform="translate(0 639.6) scale(1 1.13) translate(0 -639.6)">3</text><line x1="141.1" y1="687.2" x2="141.1" y2="695.9" stroke="#333" stroke-width="0.8"/><line x1="165.29999999999998" y1="687.2" x2="165.29999999999998" y2="695.9" stroke="#333" stroke-width="0.8"/><line x1="111.8" y1="694.4" x2="185.6" y2="694.4" stroke="#333" stroke-width="0.9"/><polygon points="141.1,694.4 128.6,692.4 128.6,696.4" fill="#111"/><polygon points="165.29999999999998,694.4 177.79999999999998,692.4 177.79999999999998,696.4" fill="#111"/><text x="111" y="689.6" font-family="Liberation Sans" font-size="16.5" fill="#444" transform="translate(0 689.6) scale(1 1.13) translate(0 -689.6)">14</text><path d="M 192.8,598.5 Q 189.8,601.5 190.5,605.5 L 193.3,606.5 Z" fill="#d3d4d6" stroke="#2a2a2a" stroke-width="1.1" stroke-linejoin="round"/><path d="M 192.8,689.3 Q 189.8,686.3 190.5,682.3 L 193.3,681.3 Z" fill="#d3d4d6" stroke="#2a2a2a" stroke-width="1.1" stroke-linejoin="round"/><path d="M 191.60000000000002,600.5 Q 191.3,598.3 193.8,597.8 L 196.8,597.5 Q 198.3,597.8 198.3,599.5 L 198.3,607.3 Q 217.15,601.8 236,607.3 L 236,599.5 Q 236,597.8 237.5,597.5 L 240.5,597.8 Q 243,598.3 242.7,600.5 C 243,619.5 237.6,625.9 237.6,643.9 C 237.6,661.9 243,668.3 242.7,687.3 Q 243,689.5 240.5,690.0 L 237.5,690.3 Q 236,690.0 236,688.3 L 236,680.8 Q 217.15,686.3 198.3,680.8 L 198.3,688.3 Q 198.3,690.0 196.8,690.3 L 193.8,690.0 Q 191.3,689.5 191.60000000000002,687.3 C 191.3,668.3 196.70000000000002,661.9 196.70000000000002,643.9 C 196.70000000000002,625.9 191.3,619.5 191.60000000000002,600.5 Z" fill="#d3d4d6" stroke="#222" stroke-width="1.2"/><rect x="202.89999999999998" y="627.6" width="28.6" height="5.8" rx="2.9" fill="#fff" stroke="#2a2a2a" stroke-width="0.9"/><line x1="201.2" y1="630.5" x2="233.2" y2="630.5" stroke="#333" stroke-width="0.8" stroke-dasharray="2.5,1,0.8,1"/><ellipse cx="213.2" cy="636.1" rx="4.6" ry="1.5" fill="#eee" stroke="#333" stroke-width="0.7"/><ellipse cx="221.2" cy="636.1" rx="4.6" ry="1.5" fill="#eee" stroke="#333" stroke-width="0.7"/><rect x="202.89999999999998" y="640.95" width="28.6" height="5.8" rx="2.9" fill="#fff" stroke="#2a2a2a" stroke-width="0.9"/><line x1="201.2" y1="643.85" x2="233.2" y2="643.85" stroke="#333" stroke-width="0.8" stroke-dasharray="2.5,1,0.8,1"/><ellipse cx="213.2" cy="649.45" rx="4.6" ry="1.5" fill="#eee" stroke="#333" stroke-width="0.7"/><ellipse cx="221.2" cy="649.45" rx="4.6" ry="1.5" fill="#eee" stroke="#333" stroke-width="0.7"/><rect x="202.89999999999998" y="654.3000000000001" width="28.6" height="5.8" rx="2.9" fill="#fff" stroke="#2a2a2a" stroke-width="0.9"/><line x1="201.2" y1="657.2" x2="233.2" y2="657.2" stroke="#333" stroke-width="0.8" stroke-dasharray="2.5,1,0.8,1"/><ellipse cx="213.2" cy="662.8000000000001" rx="4.6" ry="1.5" fill="#eee" stroke="#333" stroke-width="0.7"/><ellipse cx="221.2" cy="662.8000000000001" rx="4.6" ry="1.5" fill="#eee" stroke="#333" stroke-width="0.7"/><path d="M 148.2,758.7 L 158.2,758.7 Q 159.7,758.7 159.7,760.2 L 159.7,763.9000000000001 C 159.7,766.9000000000001 156.0,766.4000000000001 156.0,770.7 L 156.0,834.2 C 156.0,838.5 159.7,838.0 159.7,841.0 L 159.7,844.7 Q 159.7,846.2 158.2,846.2 L 148.2,846.2 Q 146.7,846.2 146.7,844.7 L 146.7,841.0 C 146.7,838.0 150.39999999999998,838.5 150.39999999999998,834.2 L 150.39999999999998,770.7 C 150.39999999999998,766.4000000000001 146.7,766.9000000000001 146.7,763.9000000000001 L 146.7,760.2 Q 146.7,758.7 148.2,758.7 Z" fill="#d3d4d6" stroke="#222" stroke-width="1.2" stroke-linejoin="round"/><line x1="150.39999999999998" y1="786.6" x2="156.0" y2="786.6" stroke="#444" stroke-width="0.7" stroke-dasharray="1.2,0.9"/><line x1="150.39999999999998" y1="792.4" x2="156.0" y2="792.4" stroke="#444" stroke-width="0.7" stroke-dasharray="1.2,0.9"/><line x1="147.89999999999998" y1="789.5" x2="158.5" y2="789.5" stroke="#555" stroke-width="0.7" stroke-dasharray="0.8,1,1.6,1"/><line x1="150.39999999999998" y1="800.1" x2="156.0" y2="800.1" stroke="#444" stroke-width="0.7" stroke-dasharray="1.2,0.9"/><line x1="150.39999999999998" y1="805.9" x2="156.0" y2="805.9" stroke="#444" stroke-width="0.7" stroke-dasharray="1.2,0.9"/><line x1="147.89999999999998" y1="803.0" x2="158.5" y2="803.0" stroke="#555" stroke-width="0.7" stroke-dasharray="0.8,1,1.6,1"/><line x1="150.39999999999998" y1="813.6" x2="156.0" y2="813.6" stroke="#444" stroke-width="0.7" stroke-dasharray="1.2,0.9"/><line x1="150.39999999999998" y1="819.4" x2="156.0" y2="819.4" stroke="#444" stroke-width="0.7" stroke-dasharray="1.2,0.9"/><line x1="147.89999999999998" y1="816.5" x2="158.5" y2="816.5" stroke="#555" stroke-width="0.7" stroke-dasharray="0.8,1,1.6,1"/><line x1="111.8" y1="803.2" x2="150.39999999999998" y2="803.2" stroke="#333" stroke-width="0.9"/><line x1="156.0" y1="803.2" x2="176.6" y2="803.2" stroke="#333" stroke-width="0.9"/><polygon points="150.39999999999998,803.2 138.39999999999998,801.2 138.39999999999998,805.2" fill="#111"/><polygon points="156.0,803.2 167.5,801.2 167.5,805.2" fill="#111"/><text x="111.5" y="798.6" font-family="Liberation Sans" font-size="16.5" fill="#444" transform="translate(0 798.6) scale(1 1.13) translate(0 -798.6)">3</text><line x1="146.7" y1="846.2" x2="146.7" y2="854.9" stroke="#333" stroke-width="0.8"/><line x1="159.7" y1="846.2" x2="159.7" y2="854.9" stroke="#333" stroke-width="0.8"/><line x1="111.8" y1="853.4" x2="179.4" y2="853.4" stroke="#333" stroke-width="0.9"/><polygon points="146.7,853.4 134.2,851.4 134.2,855.4" fill="#111"/><polygon points="159.7,853.4 172.2,851.4 172.2,855.4" fill="#111"/><text x="111" y="848.6" font-family="Liberation Sans" font-size="16.5" fill="#444" transform="translate(0 848.6) scale(1 1.13) translate(0 -848.6)">7</text><path d="M 192.8,761.6 Q 192.5,759.4 195.0,758.9 L 198.0,758.6 Q 199.5,758.9 199.5,760.6 L 199.5,768.4 Q 217.75,762.9 236,768.4 L 236,760.6 Q 236,758.9 237.5,758.6 L 240.5,758.9 Q 243,759.4 242.7,761.6 C 243,780.6 237.6,785.1 237.6,803.1 C 237.6,821.1 243,825.6 242.7,844.6 Q 243,846.8000000000001 240.5,847.3000000000001 L 237.5,847.6 Q 236,847.3000000000001 236,845.6 L 236,838.1 Q 217.75,843.6 199.5,838.1 L 199.5,845.6 Q 199.5,847.3000000000001 198.0,847.6 L 195.0,847.3000000000001 Q 192.5,846.8000000000001 192.8,844.6 C 192.5,825.6 197.9,821.1 197.9,803.1 C 197.9,785.1 192.5,780.6 192.8,761.6 Z" fill="#d3d4d6" stroke="#222" stroke-width="1.2"/><rect x="202.89999999999998" y="786.6" width="28.6" height="5.8" rx="2.9" fill="#fff" stroke="#2a2a2a" stroke-width="0.9"/><line x1="201.2" y1="789.5" x2="233.2" y2="789.5" stroke="#333" stroke-width="0.8" stroke-dasharray="2.5,1,0.8,1"/><ellipse cx="213.2" cy="795.1" rx="4.6" ry="1.5" fill="#eee" stroke="#333" stroke-width="0.7"/><ellipse cx="221.2" cy="795.1" rx="4.6" ry="1.5" fill="#eee" stroke="#333" stroke-width="0.7"/><rect x="202.89999999999998" y="799.95" width="28.6" height="5.8" rx="2.9" fill="#fff" stroke="#2a2a2a" stroke-width="0.9"/><line x1="201.2" y1="802.85" x2="233.2" y2="802.85" stroke="#333" stroke-width="0.8" stroke-dasharray="2.5,1,0.8,1"/><ellipse cx="213.2" cy="808.45" rx="4.6" ry="1.5" fill="#eee" stroke="#333" stroke-width="0.7"/><ellipse cx="221.2" cy="808.45" rx="4.6" ry="1.5" fill="#eee" stroke="#333" stroke-width="0.7"/><rect x="202.89999999999998" y="813.3000000000001" width="28.6" height="5.8" rx="2.9" fill="#fff" stroke="#2a2a2a" stroke-width="0.9"/><line x1="201.2" y1="816.2" x2="233.2" y2="816.2" stroke="#333" stroke-width="0.8" stroke-dasharray="2.5,1,0.8,1"/><ellipse cx="213.2" cy="821.8000000000001" rx="4.6" ry="1.5" fill="#eee" stroke="#333" stroke-width="0.7"/><ellipse cx="221.2" cy="821.8000000000001" rx="4.6" ry="1.5" fill="#eee" stroke="#333" stroke-width="0.7"/><path d="M 149.6,929.3 L 147.79999999999998,932.5 Q 146.2,933.0999999999999 145.0,930.9 Q 144.4,929.3 143.1,929.3 Q 141.6,929.3 141.6,931.3 L 141.6,938.9 Q 141.6,940.9 143.1,940.9 Q 144.4,940.9 145.0,939.3 Q 146.2,937.1 147.79999999999998,937.6999999999999 L 149.6,940.9 L 214.8,940.9 L 214.8,929.3 Z" fill="#d3d4d6" stroke="#222" stroke-width="1.2" stroke-linejoin="round"/><path d="M 216.3,929.3 L 216.3,940.9 L 235.8,940.9 L 237.60000000000002,937.6999999999999 Q 239.20000000000002,937.1 240.4,939.3 Q 241.0,940.9 242.3,940.9 Q 243.8,940.9 243.8,938.9 L 243.8,931.3 Q 243.8,929.3 242.3,929.3 Q 241.0,929.3 240.4,930.9 Q 239.20000000000002,933.0999999999999 237.60000000000002,932.5 L 235.8,929.3 Z" fill="#d3d4d6" stroke="#222" stroke-width="1.2" stroke-linejoin="round"/><path d="M 144,952.6 L 214.8,952.6 L 214.8,997 L 144,997 Q 141.6,997 141.6,994.6 L 141.6,955.0 Q 141.6,952.6 144,952.6 Z" fill="#d3d4d6" stroke="#222" stroke-width="1.2"/><path d="M 216.3,952.6 L 241.4,952.6 Q 243.8,952.6 243.8,955.0 L 243.8,994.6 Q 243.8,997 241.4,997 L 216.3,997 Z" fill="#d3d4d6" stroke="#222" stroke-width="1.2"/><rect x="144.3" y="956.4" width="2.6" height="36.8" fill="#c4c5c7" stroke="#333" stroke-width="0.7"/><path d="M 146.9,957.1 Q 150.5,974.6 146.9,992.5" fill="none" stroke="#333" stroke-width="0.7"/><rect x="238.2" y="956.4" width="2.6" height="36.8" fill="#c4c5c7" stroke="#333" stroke-width="0.7"/><path d="M 238.2,957.1 Q 234.6,974.6 238.2,992.5" fill="none" stroke="#333" stroke-width="0.7"/><line x1="135.6" y1="909" x2="135.6" y2="961" stroke="#333" stroke-width="0.9"/><line x1="133.3" y1="929.3" x2="141.6" y2="929.3" stroke="#666" stroke-width="0.8"/><line x1="133.3" y1="940.9" x2="141.6" y2="940.9" stroke="#666" stroke-width="0.8"/><polygon points="135.6,929.3 133.7,916.8 137.5,916.8" fill="#111"/><polygon points="135.6,940.9 133.7,953.4 137.5,953.4" fill="#111"/><text x="0" y="0" font-family="Liberation Sans" font-size="16.5" fill="#444" text-anchor="middle" transform="translate(131.5 935.5) rotate(-90) scale(1 1.13)">4</text><line x1="141.9" y1="997" x2="141.9" y2="1018" stroke="#555" stroke-width="0.8"/><line x1="243.5" y1="997" x2="243.5" y2="1018" stroke="#555" stroke-width="0.8"/><line x1="141.9" y1="1016" x2="243.5" y2="1016" stroke="#333" stroke-width="0.9"/><polygon points="141.9,1016 154.5,1014 154.5,1018" fill="#111"/><polygon points="243.5,1016 230.9,1014 230.9,1018" fill="#111"/><text x="0" y="0" font-family="Liberation Sans" font-size="17" fill="#444" text-anchor="middle" transform="translate(192 1012) scale(1 1.1)"><tspan font-style="italic">X</tspan> - 1</text></svg><svg width="120" height="1041" viewBox="0 0 120 1041" style="position:absolute;left:0;top:0;filter:blur(0.45px)"><polygon points="20.1,448.7 64.5,448.7 62.2,462.0 60.4,480.4 61.4,500.6 64.0,518.8 21.1,518.8 23.1,500.6 24.1,480.4 22.6,462.0" fill="#3e3e40" stroke="#333335" stroke-width="1.2" stroke-linejoin="round"/><rect x="21.1" y="448.7" width="42.4" height="5.3" fill="#2c2c2e"/><rect x="22.1" y="514.3" width="41.4" height="4.5" fill="#2c2c2e"/><polygon points="15.2,443.1 16.0,441.1 29.2,440.1 30.2,441.1 29.7,447.1 28.2,450.2 20.1,451.2 15.5,446.1" fill="#353537" stroke="#353537" stroke-width="0.8" stroke-linejoin="round"/><polygon points="53.4,442.6 66.5,442.1 69.0,444.1 67.5,447.1 64.5,450.2 54.4,449.7" fill="#353537" stroke="#353537" stroke-width="0.8" stroke-linejoin="round"/><polygon points="15.5,520.8 21.1,519.8 29.2,520.8 30.2,525.8 29.2,527.3 16.0,526.8 15.0,524.8" fill="#353537" stroke="#353537" stroke-width="0.8" stroke-linejoin="round"/><polygon points="53.9,519.8 63.5,518.8 68.5,521.8 69.0,524.8 67.5,526.8 54.4,526.8" fill="#353537" stroke="#353537" stroke-width="0.8" stroke-linejoin="round"/><rect x="31.199999999999996" y="468.2" width="22.2" height="6.2" rx="3.1" fill="#fbfbfb"/><ellipse cx="42.3" cy="468.1" rx="4.5" ry="1.3" fill="#fbfbfb"/><rect x="36.0" y="475.40000000000003" width="12.6" height="2.4" rx="1.2" fill="#e6e6e6"/><rect x="31.199999999999996" y="481.09999999999997" width="22.2" height="6.2" rx="3.1" fill="#fbfbfb"/><ellipse cx="42.3" cy="481.0" rx="4.5" ry="1.3" fill="#fbfbfb"/><rect x="36.0" y="488.3" width="12.6" height="2.4" rx="1.2" fill="#e6e6e6"/><rect x="31.199999999999996" y="494.2" width="22.2" height="6.2" rx="3.1" fill="#fbfbfb"/><ellipse cx="42.3" cy="494.1" rx="4.5" ry="1.3" fill="#fbfbfb"/><rect x="36.0" y="501.40000000000003" width="12.6" height="2.4" rx="1.2" fill="#e6e6e6"/><polygon points="20.1,608.2 65.0,608.2 62.5,622.0 60.9,643.5 62.5,665.0 64.5,678.8 20.6,678.8 22.6,665.0 24.1,643.5 22.3,622.0" fill="#3e3e40" stroke="#333335" stroke-width="1.2" stroke-linejoin="round"/><rect x="21.1" y="608.2" width="42.9" height="5.3" fill="#2c2c2e"/><rect x="22.1" y="674.3" width="41.9" height="4.5" fill="#2c2c2e"/><polygon points="15.0,603.1 17.0,599.6 20.1,598.1 26.1,597.6 30.2,601.1 29.2,607.1 23.1,609.2 16.0,606.1" fill="#353537" stroke="#353537" stroke-width="0.8" stroke-linejoin="round"/><polygon points="53.4,602.6 66.5,601.6 69.0,603.6 68.0,606.6 54.4,608.7" fill="#353537" stroke="#353537" stroke-width="0.8" stroke-linejoin="round"/><polygon points="16.0,680.8 23.1,678.8 29.2,680.3 30.2,686.3 27.5,690.2 23.5,690.9 18.5,688.8 15.0,685.8" fill="#353537" stroke="#353537" stroke-width="0.8" stroke-linejoin="round"/><polygon points="54.4,679.3 66.0,679.8 68.5,682.8 68.0,686.3 54.0,686.8 53.4,683.0" fill="#353537" stroke="#353537" stroke-width="0.8" stroke-linejoin="round"/><rect x="31.549999999999997" y="627.8" width="21.5" height="6.2" rx="3.1" fill="#fbfbfb"/><ellipse cx="42.3" cy="627.6999999999999" rx="4.5" ry="1.3" fill="#fbfbfb"/><rect x="36.0" y="635.0" width="12.6" height="2.4" rx="1.2" fill="#e6e6e6"/><rect x="31.549999999999997" y="640.9" width="21.5" height="6.2" rx="3.1" fill="#fbfbfb"/><ellipse cx="42.3" cy="640.8" rx="4.5" ry="1.3" fill="#fbfbfb"/><rect x="36.0" y="648.1" width="12.6" height="2.4" rx="1.2" fill="#e6e6e6"/><rect x="31.549999999999997" y="654.0" width="21.5" height="6.2" rx="3.1" fill="#fbfbfb"/><ellipse cx="42.3" cy="653.9" rx="4.5" ry="1.3" fill="#fbfbfb"/><rect x="36.0" y="661.2" width="12.6" height="2.4" rx="1.2" fill="#e6e6e6"/><polygon points="17.6,768.2 61.4,768.2 60.2,781.0 58.4,800.4 59.4,824.0 61.9,838.8 17.1,838.8 18.6,824.0 20.6,800.4 19.2,781.0" fill="#3e3e40" stroke="#333335" stroke-width="1.2" stroke-linejoin="round"/><rect x="18.6" y="768.2" width="41.8" height="5.3" fill="#2c2c2e"/><rect x="19.6" y="834.3" width="40.8" height="4.5" fill="#2c2c2e"/><polygon points="15.0,761.1 24.1,759.6 24.8,762.0 24.6,767.7 19.6,769.2 15.5,765.1" fill="#353537" stroke="#353537" stroke-width="0.8" stroke-linejoin="round"/><polygon points="53.9,762.6 62.5,762.1 63.0,765.1 61.0,768.2 54.4,767.7" fill="#353537" stroke="#353537" stroke-width="0.8" stroke-linejoin="round"/><polygon points="15.5,840.8 19.6,838.5 24.6,839.5 24.4,846.0 22.0,847.0 16.0,846.5 15.0,844.0" fill="#353537" stroke="#353537" stroke-width="0.8" stroke-linejoin="round"/><polygon points="54.4,839.5 61.0,838.5 63.0,841.5 62.5,845.5 55.0,846.0 53.9,844.0" fill="#353537" stroke="#353537" stroke-width="0.8" stroke-linejoin="round"/><rect x="28.7" y="786.6999999999999" width="21.6" height="6.2" rx="3.1" fill="#fbfbfb"/><ellipse cx="39.5" cy="786.5999999999999" rx="4.5" ry="1.3" fill="#fbfbfb"/><rect x="33.2" y="793.9" width="12.6" height="2.4" rx="1.2" fill="#e6e6e6"/><rect x="28.7" y="800.4" width="21.6" height="6.2" rx="3.1" fill="#fbfbfb"/><ellipse cx="39.5" cy="800.3" rx="4.5" ry="1.3" fill="#fbfbfb"/><rect x="33.2" y="807.6" width="12.6" height="2.4" rx="1.2" fill="#e6e6e6"/><rect x="28.7" y="813.9" width="21.6" height="6.2" rx="3.1" fill="#fbfbfb"/><ellipse cx="39.5" cy="813.8" rx="4.5" ry="1.3" fill="#fbfbfb"/><rect x="33.2" y="821.1" width="12.6" height="2.4" rx="1.2" fill="#e6e6e6"/><path d="M 15.5,977.5 Q 15,975.5 17.5,974.5 L 95,939 Q 97,938.3 99,938.6 L 106,941.5 Q 108,942.8 107,945 L 107,946.5 L 27.5,986 Q 25.5,987.3 23.5,986.8 L 16.5,982.5 Q 15,981.5 15.5,979 Z" fill="#39393b"/><path d="M 17.5,976 L 96,939.8 L 105,943.5 L 26,981 Z" fill="#4a4a4c"/></svg>
</body></html>
